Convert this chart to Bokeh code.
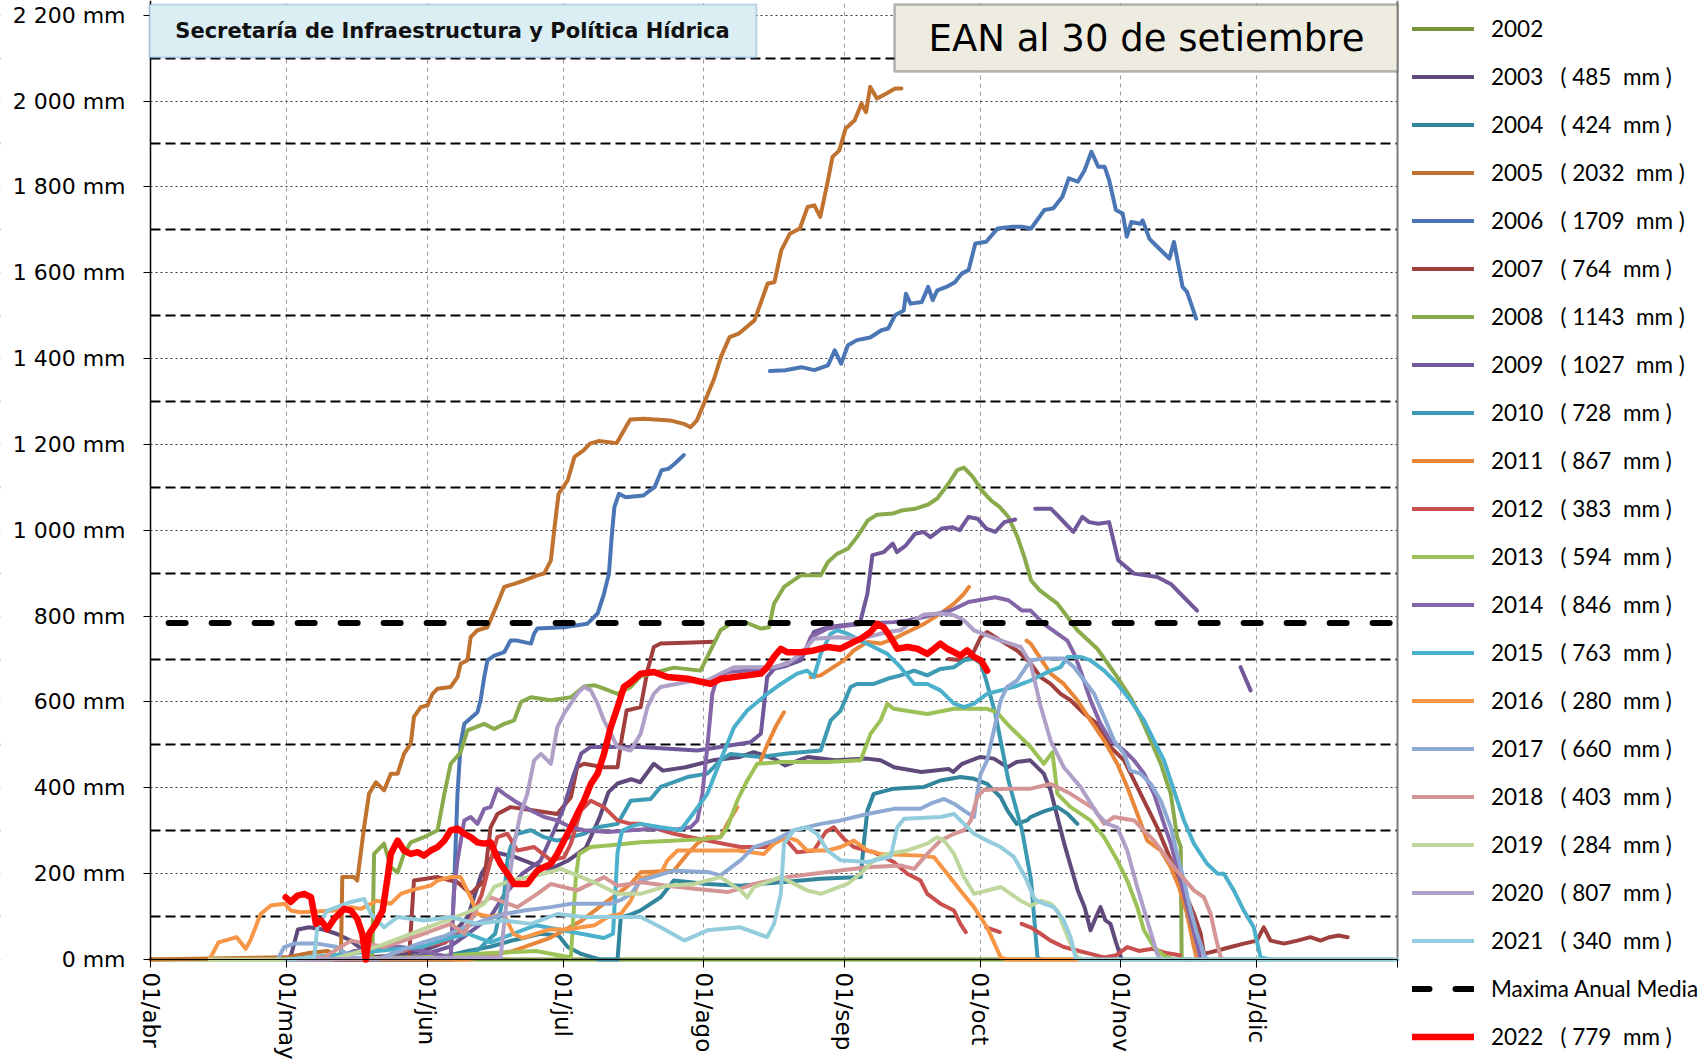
import numpy as np
from bokeh.plotting import figure
from bokeh.models import (Range1d, FixedTicker, Legend, LegendItem, Label,
                          BoxAnnotation, Span)
from bokeh.embed import file_html
from bokeh.resources import INLINE

nan = float("nan")

# ---- axis definitions (x = days since 01/abr) ----
meses_dias = [0, 30, 61, 91, 122, 153, 183, 214, 244, 275]
meses_etiquetas = ["01/abr", "01/may", "01/jun", "01/jul", "01/ago",
                   "01/sep", "01/oct", "01/nov", "01/dic", ""]
y_ticks = list(range(0, 2201, 200))
y_minor = list(range(100, 2200, 200))

# ---- series: (days since 01/abr, mm) ----
ean_2002 = [(0, 0), (274, 0)]
ean_2003 = [(30, 0), (31, 10), (32.5, 70), (35, 75), (38, 70), (41, 60), (44, 45), (46.5, 25), (48, 5),
            (55, 10), (60, 20), (65, 40), (70, 100), (73, 200), (76, 250), (80, 240), (85, 220), (88, 210),
            (92, 230), (96, 260), (99, 330), (101, 390), (103, 410), (106, 420), (108, 413), (111, 456),
            (113, 440), (118, 448), (124, 464), (130, 472), (133, 483), (137.5, 468), (140, 452), (145, 472),
            (151, 464), (158, 468), (161, 464), (164, 448), (170, 437), (176, 444), (177, 437), (179, 456),
            (183, 472), (186, 468), (189, 448), (191, 460), (194, 464), (197, 433), (198.5, 394), (200, 332),
            (201.5, 270), (203, 215), (204.5, 161), (206, 122), (207.3, 68), (208.8, 106), (209.5, 122),
            (210.6, 91), (211.7, 83), (212.8, 44), (214, 5)]
ean_2004 = [(30, 0), (60, 0), (66, 10), (70, 20), (75, 30), (80, 45), (83, 52), (86, 60), (90, 56), (92, 29),
            (95, 13), (99, 0), (103, 0), (103.7, 98), (106, 105), (108, 114), (112.5, 145), (115.4, 184),
            (122.8, 176), (130, 172), (139, 180), (147.8, 188), (156.6, 192), (157.3, 270), (158.1, 347),
            (159.5, 386), (163.9, 398), (170.6, 402), (174.2, 417), (178.6, 425), (181.6, 421), (184.5, 409),
            (187.5, 378), (189, 347), (191, 316), (193.3, 324), (194.1, 332), (197, 345), (200, 355),
            (202.2, 340), (204.4, 316)]
ean_2005 = [(0, 0), (30, 5), (35, 15), (39, 20), (41, 10), (42, 10), (42.3, 192), (44.9, 192), (45.6, 184),
            (47.1, 308), (48.2, 386), (49.7, 413), (51.5, 394), (53, 433), (54.5, 433), (55.9, 479),
            (57.4, 503), (58.1, 565), (59.6, 588), (61.1, 592), (62.2, 619), (63.3, 631), (66.2, 635),
            (67.7, 658), (68.4, 689), (69.9, 697), (70.6, 751), (72.1, 767), (74.3, 774), (76.5, 829),
            (78, 868), (80.2, 875), (82.4, 883), (85.3, 895), (86.8, 899), (88.3, 930), (89.1, 1007),
            (90, 1085), (92, 1116), (93.5, 1171), (95.5, 1186), (96.9, 1202), (98.9, 1208), (102.8, 1203),
            (104.8, 1240), (105.8, 1258), (108.7, 1260), (114.6, 1256), (117.6, 1248), (119.1, 1240),
            (120.5, 1256), (124.3, 1353), (125.8, 1404), (127.7, 1450), (129.7, 1458), (133.2, 1489),
            (136.1, 1575), (137.6, 1578), (139.1, 1652), (141, 1691), (143.2, 1703), (144.9, 1753),
            (146.4, 1757), (147.7, 1730), (149.4, 1815), (150.4, 1870), (151.9, 1885), (153.3, 1936),
            (155.3, 1955), (156.8, 1994), (157.8, 1974), (158.7, 2033), (160.2, 2006), (162.2, 2017),
            (164.2, 2029), (165.6, 2029)]
ean_2006 = [(30, 0), (66.2, 0), (66.9, 153), (67.7, 386), (68.4, 503), (69.2, 549), (72.1, 576), (72.8, 604),
            (73.6, 658), (74.3, 697), (75.8, 708), (78, 716), (79.4, 743), (80.9, 743), (83.9, 736),
            (84.6, 759), (85.3, 771), (91.2, 774), (96.3, 782), (98.6, 806), (100, 852), (101.1, 899),
            (101.7, 984), (102.3, 1054), (103.3, 1085), (104.8, 1077), (108.7, 1081), (111.2, 1101),
            (112.7, 1140), (114.2, 1143), (115.6, 1155), (117.6, 1175), (120, nan),
            (136.6, 1371), (140, 1373), (143.5, 1380), (146.4, 1373), (149.4, 1384), (150.9, 1419),
            (152.3, 1388), (153.8, 1431), (155.8, 1443), (158.7, 1449), (161.2, 1466), (162.7, 1470),
            (164.2, 1501), (166.1, 1512), (166.6, 1551), (167.6, 1528), (170.1, 1532), (171.5, 1567),
            (172.5, 1536), (173.5, 1559), (175.5, 1567), (177.4, 1578), (178.9, 1598), (180.4, 1606),
            (181.9, 1668), (184.3, 1672), (186.8, 1703), (190.2, 1707), (192.2, 1707), (194.2, 1703),
            (197.1, 1746), (199.1, 1750), (201.1, 1777), (202.5, 1820), (204.5, 1812), (206, 1839),
            (207.5, 1882), (209, 1847), (210.4, 1847), (211.4, 1816), (212.9, 1746), (214.4, 1738),
            (215.3, 1684), (216.3, 1718), (218.3, 1714), (218.8, 1722), (220.3, 1679), (221.7, 1664),
            (224.7, 1633), (225.7, 1672), (227.6, 1567), (228.6, 1555), (230.6, 1493)]
ean_2007 = [(30, 0), (57, 0), (58.1, 184), (63.3, 192), (67.7, 180), (70.6, 153), (73.6, 184), (75, 308),
            (76.5, 339), (79.4, 355), (84.6, 347), (89.7, 339), (92.7, 378), (94.1, 448), (95.6, 456),
            (100, 448), (103, 448), (104, 520), (105, 580), (108.1, 588), (109.6, 673), (111, 728),
            (112.5, 736), (118, 738), (124.3, 740), (125, nan),
            (176, 700), (179, 697), (181, 705), (183.1, 751), (184.5, 763), (187.5, 743), (191.1, 720),
            (194.1, 690), (196.3, 658), (198.5, 642), (200.7, 619), (202.9, 604), (205.9, 573), (208.8, 549),
            (211.7, 495), (214.7, 464), (217.6, 402), (219.8, 355), (222, 308), (223.5, 270), (225.7, 215),
            (227.9, 161), (230.1, 106), (231.6, 60), (232.3, 13), (235.3, 21), (238.2, 29), (241.1, 37),
            (244, 44), (245.5, 75), (247, 44), (250, 37), (252.9, 44), (255.8, 52), (258, 44), (260, 52),
            (262, 56), (264, 52)]
ean_2008 = [(30, 0), (48.9, 0), (49.3, 246), (51.5, 270), (53, 215), (54.5, 203), (55.9, 246), (57.4, 273),
            (60.3, 285), (63.3, 301), (64.8, 386), (66.2, 456), (68.4, 483), (69.9, 534), (73.6, 549),
            (75.8, 537), (78, 549), (80.2, 557), (81.7, 600), (83.9, 611), (88.3, 604), (92.7, 611),
            (95.6, 636), (97.8, 639), (100, 631), (103, 619), (105.9, 635), (108.1, 660), (115.4, 680),
            (121.3, 673), (123.5, 720), (125.7, 767), (127.9, 782), (131.6, 784), (134.6, 771), (136.4, 774),
            (137.5, 829), (139.7, 868), (143.4, 895), (147.8, 895), (149.4, 926), (151.4, 945), (153.8, 957),
            (155.8, 984), (158.2, 1023), (160.2, 1036), (163.7, 1039), (165.6, 1046), (168.6, 1050),
            (171.5, 1060), (173.5, 1074), (176, 1109), (177.9, 1140), (179.4, 1146), (181.4, 1124),
            (183.3, 1093), (185.3, 1070), (187.3, 1054), (189.2, 1031), (191.2, 984), (192.7, 938),
            (194.2, 883), (196.1, 860), (200, 829), (204.4, 767), (208.8, 724), (213.2, 658), (216.1, 611),
            (218.3, 565), (220.6, 510), (222.8, 456), (225, 386), (226.4, 285), (227.2, 262), (227.4, 0),
            (229, 0)]
ean_2009 = [(30, 0), (55, 0), (60, 10), (66, 30), (70, 60), (75, 100), (78, 150), (82, 200), (86, 230),
            (89, 300), (91, 350), (93, 420), (95, 480), (97, 495), (108, 495), (120.6, 487), (132.3, 506),
            (134.6, 526), (136, 658), (137.5, 677), (140.4, 685), (143.4, 697), (144.8, 728), (146.3, 763),
            (149.3, 774), (152.2, 778), (155.8, 782), (156.6, 790), (158.1, 852), (159.2, 942), (161.7, 949),
            (163.7, 969), (164.6, 949), (166.6, 965), (168.6, 992), (170.5, 996), (172, 984), (174.5, 1004),
            (176.9, 1007), (178.4, 1000), (180.4, 1031), (182.4, 1027), (184.3, 1004), (186.3, 996),
            (188.3, 1019), (190.7, 1025), (192, nan),
            (195.1, 1050), (198.6, 1050), (200, 1035), (203.5, 996), (205.5, 1031), (207, 1019), (209, 1015),
            (211.4, 1019), (213.4, 930), (216.9, 899), (222, 891), (225, 875), (227.9, 844), (230.8, 813),
            (235, nan), (240.4, 681), (242.6, 627)]
ean_2010 = [(30, 0), (65, 0), (72, 20), (76, 60), (78, 153), (78.7, 231), (79.4, 262), (80.9, 293),
            (83.9, 301), (86.8, 285), (89.7, 277), (92.7, 285), (95.6, 293), (98.6, 308), (103, 316),
            (105.9, 370), (110.3, 374), (112.5, 402), (115.4, 413), (118.4, 425), (122.8, 433), (125.7, 464),
            (127.9, 479), (134.6, 472), (140.4, 480), (147.8, 487), (150, 557), (152.2, 580), (154.4, 635),
            (155.8, 642), (159.5, 642), (162.5, 654), (165.4, 662), (168.4, 673), (171.3, 662), (174.2, 677),
            (177.2, 681), (179.4, 697), (181.6, 701), (183.1, 690), (184.3, 650), (186.3, 573), (189.2, 417),
            (192.2, 301), (194.2, 184), (195.6, 5), (196.3, 0)]
ean_2011 = [(30, 0), (70, 0), (80, 20), (88, 50), (95, 90), (100, 130), (103, 153), (105.9, 176),
            (108.1, 203), (115.4, 207), (118.4, 246), (120.6, 270), (122.8, 285), (125.7, 285), (127.2, 316),
            (129.4, 355), (131, nan),
            (134.6, 464), (136, 500), (138, 545), (139.7, 576), (142, nan),
            (145.6, 658), (147.8, 662), (150, 677), (152.9, 697), (155.1, 720), (158.1, 740), (161, 736),
            (163.9, 747), (166.9, 763), (170.6, 782), (174.2, 806), (177.2, 829), (179.4, 852), (180.5, 868),
            (185, nan),
            (193.2, 743), (194.1, 736), (198.5, 666), (201.4, 642), (204.4, 604), (207.3, 557), (210.3, 510),
            (213.2, 456), (215.4, 402), (217.6, 340), (219.8, 277), (222.8, 254), (225, 215), (226.8, 169),
            (228.6, 106), (230.1, 29), (230.8, 0)]
ean_2012 = [(30, 0), (50, 0), (55, 20), (60, 30), (65, 40), (70, 80), (73, 150), (75, 230), (76.5, 285),
            (78.7, 293), (80.9, 254), (84.6, 262), (88.3, 231), (91.2, 238), (92.7, 270), (94.9, 347),
            (97.1, 370), (100, 355), (103, 324), (105.9, 316), (108.1, 316), (115.4, 293), (122.8, 277),
            (130.1, 262), (136, 262), (139.7, 285), (142.6, 250), (146.3, 254), (148.9, 297), (150.7, 308),
            (152.9, 281), (155.1, 262), (159.5, 250), (163.9, 227), (166.9, 200), (169.8, 184), (171.3, 153),
            (174.2, 130), (177.2, 114), (178.6, 83), (179.8, 64), (182, nan),
            (184.3, 75), (187.3, 64), (189, nan),
            (192.1, 83), (194.1, 75), (196.3, 60), (198.5, 44), (201.4, 29), (204.4, 21), (207.3, 13),
            (210.3, 5), (213, 10), (215.4, 29), (218, 20), (221, 25), (224, 15), (227, 10)]
ean_2013 = [(30, 0), (60, 5), (75, 15), (85, 20), (90, 10), (92.7, 5), (93.8, 192), (94.5, 246), (97.1, 262),
            (101.5, 266), (108.1, 273), (122.8, 281), (125.7, 285), (127.2, 308), (129.4, 370), (131.6, 417),
            (133.8, 456), (139, 460), (149.3, 460), (156.6, 464), (158.8, 526), (161, 557), (162.5, 596),
            (163.9, 584), (171.3, 572), (177.2, 584), (184.5, 584), (186.7, 576), (188.9, 549), (191.1, 526),
            (194.1, 495), (197, 456), (198.9, 483), (200, 386), (202.9, 355), (207.3, 324), (210.3, 285),
            (213.2, 231), (215.4, 184), (217.6, 122), (219.1, 68), (221.3, 29), (223.5, 9), (225.7, 0)]
ean_2014 = [(30, 0), (40, 0), (45, 20), (55, 30), (60, 20), (66.2, 5), (66.9, 153), (67.7, 231), (69.2, 324),
            (70.6, 332), (72.1, 316), (73.6, 351), (75, 355), (76.5, 398), (78, 386), (80.2, 370),
            (83.9, 347), (86.8, 332), (89.7, 324), (92.7, 308), (95.6, 301), (100.8, 297), (105.9, 301),
            (112, 305), (116, 303), (119.1, 308), (120.6, 324), (121.7, 386), (122.8, 495), (123.9, 619),
            (125, 658), (127.2, 670), (131.6, 673), (136, 677), (139, 685), (141.9, 697), (144.1, 712),
            (145.6, 751), (149.3, 771), (153.7, 778), (159.5, 784), (163.9, 786), (166.9, 790), (170.6, 798),
            (176.5, 813), (180.4, 833), (186.3, 844), (189.2, 837), (192.2, 813), (194.1, 813), (197, 782),
            (200, 759), (202.2, 743), (203.7, 712), (205.1, 673), (207.3, 604), (209.5, 549), (211.7, 510),
            (214.7, 487), (216.9, 464), (219.1, 433), (221.3, 386), (223.5, 316), (225, 270), (226.4, 215),
            (227.9, 153), (229.4, 91), (230.8, 37), (231.6, 0)]
ean_2015 = [(30, 0), (40, 10), (50, 20), (60, 30), (66, 50), (70, 60), (75, 40), (80, 60), (85, 80), (90, 70),
            (95, 60), (100, 50), (102, 60), (103, 250), (104, 300), (106, 310), (108.1, 316), (112.5, 308),
            (116.9, 301), (119.1, 332), (122.8, 386), (125.7, 464), (128.7, 541), (131.6, 580), (136, 619),
            (139, 642), (142.6, 666), (144.8, 673), (146.3, 658), (147.8, 712), (150, 759), (151.5, 767),
            (153.7, 759), (156.6, 743), (159.5, 728), (162.5, 712), (165.4, 681), (168.4, 642), (171.3, 642),
            (174.2, 627), (177.2, 596), (179.4, 588), (181.6, 596), (184.5, 619), (187.5, 627), (190.4, 635),
            (194.1, 650), (198.5, 673), (200.7, 681), (202.2, 705), (205.1, 705), (207.3, 697), (210.3, 673),
            (213.2, 642), (216.1, 604), (219.1, 557), (221.3, 510), (223.5, 464), (225.7, 394), (227.9, 324),
            (230.1, 270), (233, 223), (235.3, 200), (236.7, 200), (238.9, 161), (241.1, 114), (243.3, 75),
            (244.8, 5), (247, 0)]
ean_2016 = [(13, 0), (15, 40), (19, 52), (21, 25), (22, 44), (24.3, 106), (26.5, 126), (29.5, 130), (31, 114),
            (33, 110), (40.5, 114), (44.2, 122), (46.4, 118), (48.6, 130), (50, 137), (53, 130), (55.2, 153),
            (57.4, 161), (59, 165), (61.8, 172), (63.3, 184), (66.2, 192), (68.4, 192), (70.6, 145),
            (72.1, 106), (75, 99), (78, 106), (80, 60), (82, 50), (85, 60), (88, 70), (92, 70), (95, 75),
            (98, 80), (101, 100), (103.7, 106), (105.9, 137), (108.1, 190), (112.5, 200), (114, 231),
            (116.2, 254), (122.8, 254), (129.4, 254), (135.3, 246), (137.5, 270), (140.4, 285), (142.6, 277),
            (144.8, 254), (149.3, 254), (152.2, 262), (155.1, 277), (158.1, 254), (161, 246), (169.8, 242),
            (172.8, 238), (175.7, 200), (178.6, 161), (181.6, 122), (184.5, 75), (187.5, 5), (188.9, 0),
            (205, 0)]
ean_2017 = [(28, 0), (29.5, 29), (31.7, 37), (36.8, 37), (41.2, 29), (44.2, 5), (50, 0), (55, 20), (60, 40),
            (65, 55), (69.2, 75), (73.6, 91), (78, 106), (82.4, 114), (88.3, 122), (92.7, 130), (101.5, 130),
            (104, 140), (106, 153), (108.1, 184), (115.4, 207), (122.8, 204), (125.7, 196), (130.1, 231),
            (133.1, 262), (137.5, 277), (141.9, 301), (147.8, 316), (152.2, 324), (158.1, 339), (163.9, 351),
            (169.8, 351), (172, 363), (175, 374), (177.2, 363), (179.4, 347), (181.6, 332), (182.3, 386),
            (183.1, 433), (184.5, 464), (186, 534), (187.5, 604), (188.9, 635), (191.1, 650), (194.1, 697),
            (197, 701), (201.4, 701), (203.7, 681), (205.9, 650), (208.1, 619), (210.3, 565), (212.5, 510),
            (214.7, 479), (216.1, 440), (218.3, 433), (220.6, 409), (222.8, 370), (225, 308), (226.4, 246),
            (227.9, 184), (229.4, 114), (230.8, 60), (232.3, 13), (233, 0)]
ean_2018 = [(30, 0), (38.3, 5), (44.2, 44), (51.5, 29), (60.3, 60), (66.2, 83), (69.2, 60), (72.1, 122),
            (75, 145), (80.9, 122), (85.3, 153), (88.3, 176), (94.1, 161), (100, 192), (103, 172), (108.1, 180),
            (114, 172), (119.9, 165), (127.2, 157), (130.1, 165), (133.1, 176), (140.4, 192), (149.3, 204),
            (158.1, 215), (165.4, 219), (168.4, 211), (171.3, 246), (174.2, 277), (177.2, 293), (179.4, 301),
            (180.9, 324), (182.3, 378), (183.8, 395), (188.9, 398), (194.1, 398), (198.5, 409), (202.9, 386),
            (208.1, 351), (210.3, 316), (212.5, 332), (216.9, 324), (221.3, 277), (225.7, 215), (230.1, 161),
            (232.3, 145), (233.8, 106), (234.9, 52), (236, 5), (236.7, 0)]
ean_2019 = [(13, 0), (40, 0), (50, 30), (55, 50), (60, 70), (65, 90), (70, 110), (73.6, 130), (75.8, 169),
            (79.4, 184), (85.3, 196), (90.5, 211), (94.1, 196), (98.6, 176), (103, 153), (105.9, 153),
            (108.1, 153), (114, 172), (119.9, 176), (125.7, 192), (130.1, 161), (131.6, 145), (133.1, 169),
            (139, 192), (144.8, 161), (147.8, 153), (153.7, 176), (156.6, 200), (159.5, 231), (162.5, 246),
            (166.9, 254), (171.3, 270), (173.5, 285), (175, 277), (177.2, 246), (179.4, 192), (181.6, 153),
            (187.5, 169), (191.9, 137), (194.1, 125), (196.3, 137), (198.5, 130), (200, 114), (201.4, 75),
            (202.9, 37), (204.4, 5), (205.9, 0)]
ean_2020 = [(30, 0), (77.2, 5), (78.7, 153), (80.2, 270), (81.6, 339), (83.1, 386), (84.6, 464), (86.1, 479),
            (88.3, 456), (89.7, 541), (91.2, 573), (94.1, 619), (95.6, 635), (97.1, 627), (98.6, 596),
            (100, 557), (101.5, 526), (103, 495), (105.9, 487), (108.1, 526), (109.6, 588), (111, 619),
            (112.5, 635), (119.9, 650), (122.8, 650), (125.7, 666), (128.7, 681), (137.5, 681), (140.4, 689),
            (143.4, 712), (146.3, 747), (151.5, 751), (156.6, 747), (162.5, 763), (165.4, 767), (168.4, 790),
            (170.6, 804), (174.2, 806), (177.2, 802), (179.4, 790), (181.6, 767), (184.5, 755), (187.5, 743),
            (191.9, 728), (194.1, 690), (196.3, 590), (198.5, 510), (201.4, 448), (205.1, 402), (208.8, 339),
            (211, 316), (213.2, 308), (215.4, 254), (217.6, 169), (219.8, 91), (222, 13), (222.8, 0)]
ean_2021 = [(30, 0), (36.1, 5), (36.8, 75), (39, 114), (44.2, 134), (47.1, 141), (48.6, 106), (51.5, 75),
            (54.5, 99), (60.3, 91), (66.2, 99), (72.1, 83), (78, 91), (83.9, 83), (89.7, 106), (95.6, 99),
            (103, 99), (108.1, 99), (112.5, 75), (117.7, 44), (122.8, 68), (130.1, 75), (136, 52), (137.5, 83),
            (139, 153), (139.7, 270), (141.9, 301), (144.8, 308), (147, 293), (149.3, 254), (152.2, 231),
            (158.1, 227), (163.2, 239), (164.7, 308), (166.2, 328), (174.2, 332), (177.2, 339), (179.4, 316),
            (181.6, 293), (184.5, 277), (187.5, 262), (190.4, 239), (193, 190), (195, 140), (197, 130),
            (199.2, 122), (201.4, 91), (202.9, 52), (204, 5), (205, 0), (275, 0)]
ean_2022 = [(29.8, 145), (30.9, 134), (32.4, 149), (33.9, 153), (35.4, 145), (36.5, 83), (37.6, 91), (39, 71),
            (40.5, 95), (42.7, 118), (44.2, 114), (45.6, 95), (46.7, 60), (47.5, 0), (48.2, 60), (49.7, 83),
            (51.2, 114), (52.3, 192), (53, 246), (54.5, 277), (55.9, 254), (57.4, 246), (58.9, 250),
            (60.3, 242), (61.8, 254), (63.3, 262), (64.8, 277), (66.2, 301), (67.7, 305), (69.2, 293),
            (70.6, 285), (72.1, 273), (73.6, 270), (75, 273), (76.1, 246), (77.2, 223), (78.7, 200),
            (80.2, 176), (83.1, 176), (84.2, 192), (85.3, 207), (86.8, 215), (88.3, 223), (89.7, 246),
            (91.2, 277), (92.7, 308), (94.1, 339), (95.6, 370), (97.1, 409), (98.6, 433), (100, 479),
            (101.5, 541), (103, 588), (104.4, 635), (105.9, 646), (108.1, 666), (111, 670), (114, 658),
            (118.4, 654), (123.5, 642), (125.7, 654), (131.6, 662), (134.6, 666), (136, 681), (137.5, 705),
            (139, 724), (140.4, 716), (143.4, 716), (146.3, 720), (149.3, 728), (152.2, 724), (155.1, 740),
            (156.6, 747), (158.8, 763), (160.3, 782), (161.7, 774), (163.2, 751), (164.7, 724), (166.9, 728),
            (169.1, 724), (171.3, 712), (172.8, 724), (174.2, 736), (175.7, 724), (177.2, 716), (178.6, 708),
            (180.1, 720), (181.6, 705), (183.1, 697), (184.5, 673)]
maxima_anual_media = [(4, 784), (274, 784)]

anios = ["2002", "2003", "2004", "2005", "2006", "2007", "2008", "2009", "2010", "2011", "2012",
         "2013", "2014", "2015", "2016", "2017", "2018", "2019", "2020", "2021"]
ean_30_setiembre = [None, 485, 424, 2032, 1709, 764, 1143, 1027, 728, 867, 383,
                    594, 846, 763, 280, 660, 403, 284, 807, 340]
ean_2022_30_setiembre = 779

series = [ean_2002, ean_2003, ean_2004, ean_2005, ean_2006, ean_2007, ean_2008, ean_2009, ean_2010,
          ean_2011, ean_2012, ean_2013, ean_2014, ean_2015, ean_2016, ean_2017, ean_2018, ean_2019,
          ean_2020, ean_2021]
colores = ["#77933C", "#604A7B", "#31859C", "#C0722F", "#4A76B5", "#A0403E", "#8AAB4C", "#71589A",
           "#3C9AB3", "#E8873A", "#C9504E", "#9CC257", "#8466A8", "#4BB0CC", "#F79646", "#8EA9D3",
           "#D69595", "#BFD79C", "#AFA0C8", "#93CDDD"]

NB = "\u00a0"
LW = 4

# ---- layout constants (pixels) ----
W, H = 1703, 1063
AXIS_X = 150            # pixel column of 01/abr
AXIS_Y = 959            # pixel row of 0 mm
PX_PER_MM = 0.42923
PX_PER_DAY = 4.53455
DIA_FIN = 275           # 01/ene, right edge of the plotting area

y_ini = -(H - AXIS_Y) / PX_PER_MM
y_fin = AXIS_Y / PX_PER_MM
x_ini = -AXIS_X / PX_PER_DAY
x_fin = (W - AXIS_X) / PX_PER_DAY


def etiqueta(anio, v):
    if v is None:
        return anio
    return f"{anio}{NB*3}({NB}{v}{NB*2}mm{NB})"


def xy(datos):
    return (np.array([d for d, _ in datos], dtype=float),
            np.array([m for _, m in datos], dtype=float))


p = figure(width=W, height=H, x_range=Range1d(x_ini, x_fin), y_range=Range1d(y_ini, y_fin),
           output_backend="svg", toolbar_location=None,
           min_border_left=0, min_border_right=0, min_border_top=0, min_border_bottom=0)
p.outline_line_color = None
p.background_fill_color = "white"
p.border_fill_color = "white"

# both axes drawn through the origin, inside the frame
p.xaxis.fixed_location = 0
p.xaxis.bounds = (0, DIA_FIN)
p.xaxis.ticker = FixedTicker(ticks=meses_dias)
p.xaxis.major_label_overrides = {d: l for d, l in zip(meses_dias, meses_etiquetas)}
p.xaxis.major_label_orientation = "vertical"
p.xaxis.major_label_text_font = "DejaVu Sans"
p.xaxis.major_label_text_font_size = "23px"
p.xaxis.major_label_text_color = "black"
p.xaxis.major_tick_out = 8
p.xaxis.major_tick_in = 0
p.xaxis.minor_tick_out = 0
p.xaxis.minor_tick_in = 0
p.xaxis.major_label_standoff = 5
p.xaxis.axis_line_color = "black"
p.xaxis.major_tick_line_color = "black"

p.yaxis.fixed_location = 0
p.yaxis.bounds = (0, y_fin)
p.yaxis.ticker = FixedTicker(ticks=y_ticks, minor_ticks=y_minor)
p.yaxis.major_label_overrides = {v: f"{v:,}".replace(",", " ") + " mm" for v in y_ticks}
p.yaxis.major_label_text_font = "DejaVu Sans"
p.yaxis.major_label_text_font_size = "22px"
p.yaxis.major_label_text_color = "black"
p.yaxis.major_tick_out = 7
p.yaxis.major_tick_in = 0
p.yaxis.minor_tick_out = 0
p.yaxis.minor_tick_in = 0
p.yaxis.major_label_standoff = 18
p.yaxis.axis_line_color = "black"
p.yaxis.axis_line_width = 1.5

p.xgrid.ticker = FixedTicker(ticks=meses_dias)
p.xgrid.grid_line_color = "#9a9a9a"
p.xgrid.grid_line_dash = "4 4"
p.xgrid.grid_line_width = 1
p.ygrid.ticker = FixedTicker(ticks=y_ticks, minor_ticks=y_minor)
p.ygrid.grid_line_color = "#333333"
p.ygrid.grid_line_dash = "2 3"
p.ygrid.grid_line_width = 1
p.ygrid.minor_grid_line_color = "black"
p.ygrid.minor_grid_line_dash = "10 5"
p.ygrid.minor_grid_line_width = 2

# white covers keep the grid inside the plotting area (below glyphs and axes)
p.add_layout(BoxAnnotation(left=DIA_FIN, right=x_fin, bottom=y_ini, top=y_fin,
                           fill_color="white", fill_alpha=1.0, line_color=None, level="underlay"))
p.add_layout(Span(location=DIA_FIN, dimension="height", line_color="#7a7a7a", line_width=2,
                  level="underlay"))
p.add_layout(BoxAnnotation(left=x_ini, right=x_fin, bottom=y_ini, top=0,
                           fill_color="white", fill_alpha=1.0, line_color=None, level="underlay"))
p.add_layout(BoxAnnotation(left=x_ini, right=0, bottom=y_ini, top=y_fin,
                           fill_color="white", fill_alpha=1.0, line_color=None, level="underlay"))

items = []
for anio, datos, color, v in zip(anios, series, colores, ean_30_setiembre):
    x, y = xy(datos)
    r = p.line(x, y, line_color=color, line_width=LW, line_join="round", line_cap="round")
    items.append(LegendItem(label=etiqueta(anio, v), renderers=[r]))

xm, ym = xy(maxima_anual_media)
rm = p.line(xm, ym, line_color="black", line_width=6, line_dash="17 26", line_cap="round")
items.append(LegendItem(label="Maxima Anual Media", renderers=[rm]))

x22, y22 = xy(ean_2022)
r22 = p.line(x22, y22, line_color="#FF0000", line_width=6.5, line_join="round", line_cap="round")
items.append(LegendItem(label=etiqueta("2022", ean_2022_30_setiembre), renderers=[r22]))

legend = Legend(items=items, location=(1412, 13), orientation="vertical",
                glyph_width=62, glyph_height=21, label_height=21, spacing=21,
                padding=0, margin=0, label_standoff=17,
                label_text_font="Lato", label_text_font_size="22.5px", label_text_color="black",
                border_line_color=None,
                background_fill_color="white", background_fill_alpha=1.0)
p.add_layout(legend)

# title boxes (screen units, measured from the frame's bottom-left = page bottom-left)
p.add_layout(BoxAnnotation(left=149, right=756, top=1059, bottom=1006,
                           left_units="screen", right_units="screen",
                           top_units="screen", bottom_units="screen",
                           fill_color="#DBEEF4", fill_alpha=1.0,
                           line_color="#4F81BD", line_width=2))
p.add_layout(Label(x=452, y=1033, x_units="screen", y_units="screen",
                   text="Secretaría de Infraestructura y Política Hídrica",
                   text_font="DejaVu Sans", text_font_style="bold", text_font_size="21px",
                   text_color="#111111", text_align="center", text_baseline="middle"))
p.add_layout(BoxAnnotation(left=894, right=1397, top=1059, bottom=992,
                           left_units="screen", right_units="screen",
                           top_units="screen", bottom_units="screen",
                           fill_color="#EEECE1", fill_alpha=1.0,
                           line_color="#111111", line_width=2.5))
p.add_layout(Label(x=1146, y=1025, x_units="screen", y_units="screen",
                   text="EAN al 30 de setiembre",
                   text_font="DejaVu Sans", text_font_size="37px",
                   text_color="black", text_align="center", text_baseline="middle"))

open("out.html", "w").write(file_html(p, INLINE, title="EAN al 30 de setiembre"))
